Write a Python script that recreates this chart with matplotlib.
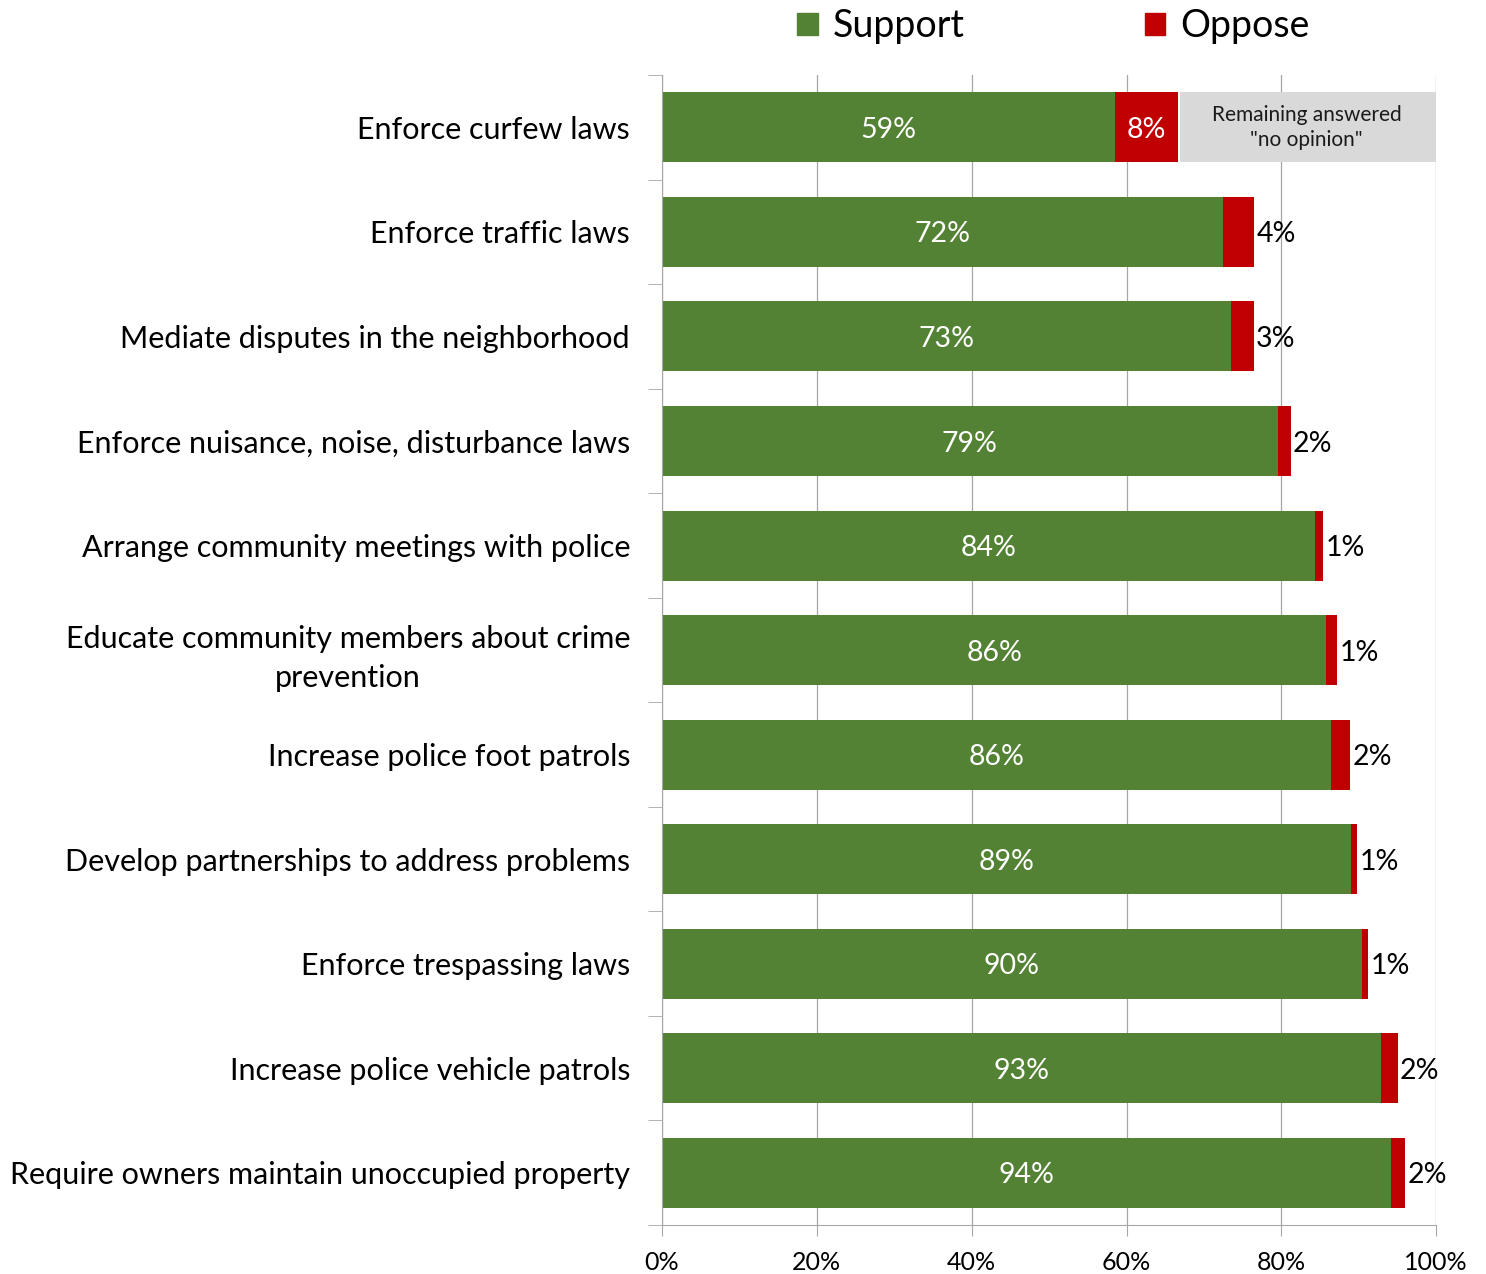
import matplotlib.pyplot as plt
from matplotlib.patches import Patch

plt.rcParams['font.family'] = ['Lato', 'DejaVu Sans']

categories = ['Enforce curfew laws', 'Enforce traffic laws',
              'Mediate disputes in the neighborhood',
              'Enforce nuisance, noise, disturbance laws',
              'Arrange community meetings with police',
              'Educate community members about crime\nprevention',
              'Increase police foot patrols',
              'Develop partnerships to address problems',
              'Enforce trespassing laws', 'Increase police vehicle patrols',
              'Require owners maintain unoccupied property']
support = [58.5, 72.5, 73.5, 79.5, 84.4, 85.8, 86.4, 89.0, 90.4, 92.9, 94.2]
oppose = [8.2, 4.0, 2.9, 1.7, 1.0, 1.4, 2.5, 0.8, 0.8, 2.1, 1.8]
support_labels = [59, 72, 73, 79, 84, 86, 86, 89, 90, 93, 94]
oppose_labels = [8, 4, 3, 2, 1, 1, 2, 1, 1, 2, 2]
x_ticks = [0, 20, 40, 60, 80, 100]

green = '#548235'
red = '#C00000'

fig = plt.figure(figsize=(14.86, 12.74), dpi=100)
ax = fig.add_axes([0.4455, 0.0385, 0.521, 0.9025])

y = range(len(categories))
ax.barh(y, support, height=0.67, color=green, zorder=2)
ax.barh(y, oppose, left=support, height=0.67, color=red, zorder=2)

# grey note box after first bar
end0 = support[0] + oppose[0]
ax.barh(0, 99.8 - end0, left=end0 + 0.2, height=0.67, color='#D9D9D9', zorder=2)
ax.text((end0 + 99.8) / 2, 0, 'Remaining answered\n"no opinion"', ha='center',
        va='center', fontsize=15, color='#1a1a1a', zorder=3, linespacing=1.3)

for i in y:
    ax.text(support[i] / 2, i, '%d%%' % support_labels[i], ha='center',
            va='center_baseline', color='white', fontsize=20.5, zorder=3)
    if i == 0:
        ax.text(support[i] + oppose[i] / 2, i, '%d%%' % oppose_labels[i], ha='center',
                va='center_baseline', color='white', fontsize=20.5, zorder=3)
    else:
        ax.text(support[i] + oppose[i] + 0.3, i, '%d%%' % oppose_labels[i], ha='left',
                va='center_baseline', color='black', fontsize=20.5, zorder=3)

ax.set_xlim(0, 100)
ax.set_ylim(len(categories) - 0.5, -0.5)
ax.set_xticks(x_ticks)
ax.set_xticklabels(['%d%%' % t for t in x_ticks], fontsize=18)
ax.set_yticks(y)
ax.set_yticklabels(categories, fontsize=22, multialignment='center', linespacing=1.5)
ax.set_yticks([i + 0.5 for i in range(-1, len(categories))], minor=True)
ax.tick_params(axis='y', which='major', length=0, pad=23)
ax.tick_params(axis='y', which='minor', length=10, color='#A6A6A6')
ax.tick_params(axis='x', length=8, color='#A6A6A6', pad=11)
ax.grid(axis='x', color='#A6A6A6', lw=0.9, zorder=0)
for s in ['top', 'right']:
    ax.spines[s].set_visible(False)
for s in ['left', 'bottom']:
    ax.spines[s].set_color('#A6A6A6')

handles = [Patch(color=green, label='Support'), Patch(color=red, label='Oppose')]
fig.legend(handles=handles, loc='upper center', bbox_to_anchor=(0.709, 1.02), ncol=2,
           frameon=False, fontsize=27, handlelength=0.55, handleheight=0.55,
           columnspacing=4.8, handletextpad=0.4)

fig.savefig('out.png', dpi=100)
